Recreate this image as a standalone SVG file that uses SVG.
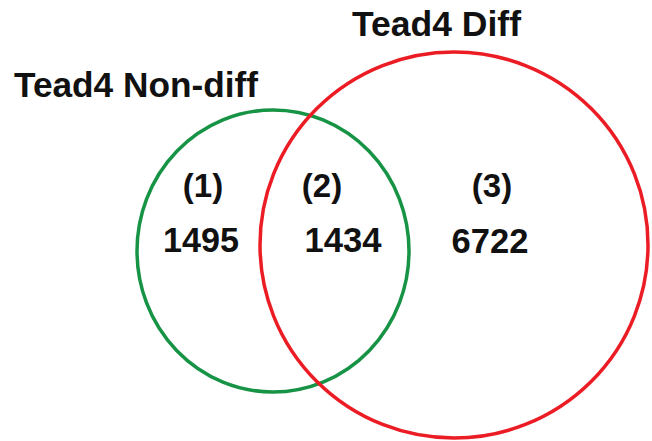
<svg xmlns="http://www.w3.org/2000/svg" width="652" height="441" viewBox="0 0 652 441">
<style>
.t{font-family:"Liberation Sans",Arial,sans-serif;font-weight:bold;fill:#111;text-anchor:middle}
.set{fill:none;stroke-width:3.5}
</style>
<rect width="652" height="441" fill="#fff"/>
<g id="set-nondiff">
<ellipse class="set" cx="273" cy="251" rx="136" ry="141" stroke="#179345"/>
<text class="t" x="136" y="97" font-size="35" textLength="244" lengthAdjust="spacingAndGlyphs">Tead4 Non-diff</text>
</g>
<g id="set-diff">
<ellipse class="set" cx="454" cy="245" rx="194" ry="193" stroke="#ec1c24"/>
<text class="t" x="436.5" y="36" font-size="35" textLength="169" lengthAdjust="spacingAndGlyphs">Tead4 Diff</text>
</g>
<g id="region1">
<text class="t" x="203" y="197" font-size="33">(1)</text>
<text class="t" x="201" y="252" font-size="35" textLength="76" lengthAdjust="spacingAndGlyphs">1495</text>
</g>
<g id="region2">
<text class="t" x="322" y="197" font-size="33">(2)</text>
<text class="t" x="343" y="252" font-size="35" textLength="77" lengthAdjust="spacingAndGlyphs">1434</text>
</g>
<g id="region3">
<text class="t" x="492" y="197" font-size="33">(3)</text>
<text class="t" x="490" y="253" font-size="35" textLength="77" lengthAdjust="spacingAndGlyphs">6722</text>
</g>
<g id="connectors"/>
</svg>
